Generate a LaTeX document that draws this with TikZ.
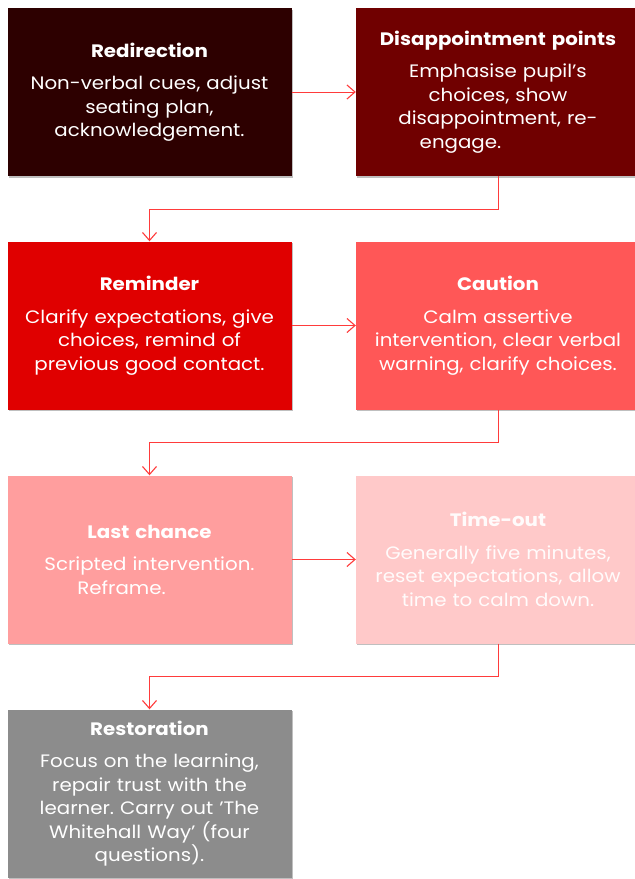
\documentclass[tikz,border=0pt]{standalone}
\usepackage{fontspec}
\setmainfont[FakeStretch=1.1]{Poppins}
\usetikzlibrary{arrows.meta,shadows}
\definecolor{cRedir}{HTML}{2D0000}
\definecolor{cDisap}{HTML}{700000}
\definecolor{cRemind}{HTML}{E00000}
\definecolor{cCaution}{HTML}{FF5757}
\definecolor{cLast}{HTML}{FF9E9E}
\definecolor{cTime}{HTML}{FFC9C9}
\definecolor{cRest}{HTML}{8C8C8C}
\definecolor{cArrow}{HTML}{FF3B3B}
\tikzset{
  stagebox/.style={rectangle, minimum width=284pt, minimum height=168pt, inner sep=0pt,
    text=white, align=center, text width=280pt,
    font=\fontsize{18pt}{23.5pt}\selectfont\frenchspacing,
    drop shadow={shadow xshift=1pt, shadow yshift=-1.5pt, opacity=0.25, fill=black}},
  flowarrow/.style={draw=cArrow, line width=1pt, -{Straight Barb[length=8pt,width=14pt,line width=1.1pt]}}
}
\newcommand{\sttl}[1]{{\bfseries #1}\\[9pt]}
\begin{document}
\begin{tikzpicture}[x=1pt,y=-1pt]
\useasboundingbox (0,0) rectangle (635,879);
\node[stagebox, fill=cRedir] (redir) at (149.5,92)
  {\sttl{Redirection}Non-verbal cues, adjust\\ seating plan,\\ acknowledgement.};
\node[stagebox, fill=cDisap] (disap) at (498,92)
  {\sttl{Disappointment points}Emphasise pupil's\\ choices, show\\ disappointment, re-\\ \hspace*{-75pt}engage.};
\node[stagebox, fill=cRemind] (remind) at (149.5,325.5)
  {\sttl{Reminder}Clarify expectations, give\\ choices, remind of\\ previous good contact.};
\node[stagebox, fill=cCaution] (caution) at (498,325.5)
  {\sttl{Caution}Calm assertive\\ intervention, clear verbal\\ warning, clarify choices.};
\node[stagebox, fill=cLast] (last) at (149.5,559.5)
  {\sttl{Last chance}Scripted intervention.\\ \hspace*{-56pt}Reframe.};
\node[stagebox, fill=cTime, text=white!92!cTime] (timeout) at (498,559.5)
  {\sttl{Time-out}Generally five minutes,\\ reset expectations, allow\\ time to calm down.};
\node[stagebox, fill=cRest] (rest) at (149.5,793.5)
  {\sttl{Restoration}Focus on the learning,\\ repair trust with the\\ learner. Carry out 'The\\ Whitehall Way' (four\\ questions).};
\draw[flowarrow] (redir.east) -- (disap.west);
\draw[flowarrow] (remind.east) -- (caution.west);
\draw[flowarrow] (last.east) -- (timeout.west);
\draw[flowarrow] (disap.south) -- ++(0,33) -| (remind.north);
\draw[flowarrow] (caution.south) -- ++(0,33) -| (last.north);
\draw[flowarrow] (timeout.south) -- ++(0,33) -| (rest.north);
\end{tikzpicture}
\end{document}
